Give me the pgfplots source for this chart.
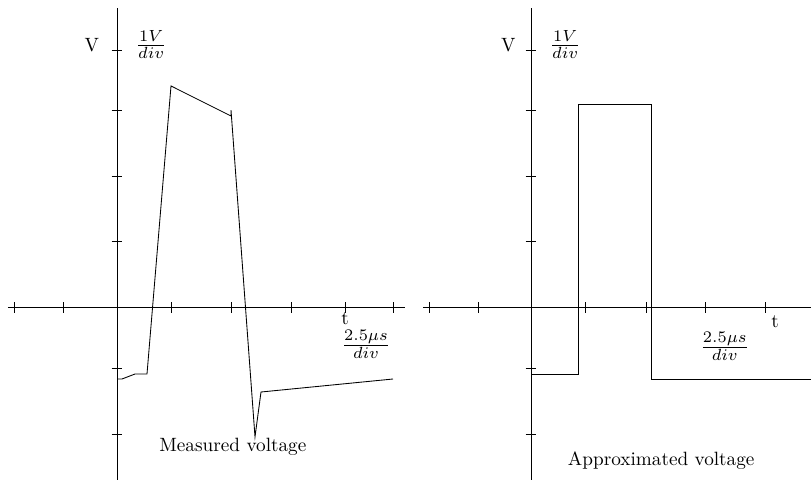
\documentclass[border=0pt]{standalone}
\usepackage{graphicx}
\usepackage{pgfplots}
\pgfplotsset{compat=1.18}

% one division is about 60 px across and 65 px up; 1 px = 0.52pt
\pgfplotsset{
    scope/.style={
        axis lines=middle,
        axis line style={-, black},
        x=31.2pt, y=33.8pt,
        enlargelimits=false,
        anchor=origin,
        clip=false,
        xticklabels={}, yticklabels={},
        tick align=center,
        major tick length=5.5pt,
        every tick/.style={black},
        ymin=-2.65, ymax=4.61,
        ytick={-1.95,-0.93,1.01,2.02,3.04,3.96},
    },
    trace/.style={black, line width=0.45pt, mark=none},
}
\newcommand{\unitfrac}[2]{\scalebox{1.2}{$\frac{#1}{#2}$}}

\begin{document}
\begin{tikzpicture}
\useasboundingbox (0,0) rectangle (421.72pt,252.2pt);

% measured
\begin{axis}[scope, at={(60.84pt,92.3pt)},
    xmin=-1.82, xmax=4.8,
    xtick={-1.717,-0.9,0.9,1.9,2.9,3.8,4.6}]
\addplot[trace] coordinates {
    (0.017,-1.10) (0.083,-1.10) (0.30,-1.023) (0.50,-1.023)
    (0.90,3.408) (1.90,2.946) (1.90,3.038) (2.30,-1.99)
    (2.40,-1.30) (4.60,-1.10)};
\node at (axis cs:-0.42,4.04) {V};
\node at (axis cs:0.57,4.04) {\unitfrac{1V}{div}};
\node at (axis cs:3.80,-0.17) {t};
\node at (axis cs:4.15,-0.57) {\unitfrac{2.5\mu s}{div}};
\node at (axis cs:1.93,-2.15) {Measured voltage};
\end{axis}

% approximated
\begin{axis}[scope, at={(276.12pt,92.3pt)},
    xmin=-1.80, xmax=4.67,
    xtick={-1.7,-0.883,0.9,1.917,2.9,3.9}]
\addplot[trace] coordinates {
    (0,-1.023) (0.79,-1.023) (0.79,3.13) (2.0,3.13)
    (2.0,-1.108) (4.67,-1.108)};
\node at (axis cs:-0.38,4.04) {V};
\node at (axis cs:0.57,4.04) {\unitfrac{1V}{div}};
\node at (axis cs:4.07,-0.22) {t};
\node at (axis cs:3.23,-0.60) {\unitfrac{2.5\mu s}{div}};
\node at (axis cs:2.17,-2.35) {Approximated voltage};
\end{axis}
\end{tikzpicture}
\end{document}
